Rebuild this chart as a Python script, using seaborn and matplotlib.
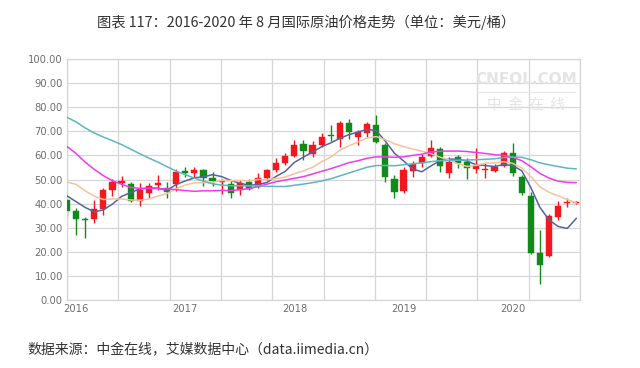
import numpy as np
import pandas as pd
import matplotlib
matplotlib.use("Agg")
import matplotlib.pyplot as plt
import seaborn as sns

# ---------------- data (monthly WTI candles, 2015-12 .. 2020-08) ----------------
months = [str(p) for p in pd.period_range("2015-12", "2020-08", freq="M")]
open_ = [41.6, 37.0, 33.8, 33.6, 37.8, 45.5, 48.6, 48.3, 41.2, 44.5, 47.8, 46.5,
         48.1, 53.7, 52.7, 53.8, 50.7, 49.0, 48.2, 45.7, 49.0, 47.0, 50.8, 54.0,
         57.0, 59.6, 64.6, 60.5, 64.4, 68.3, 66.9, 73.5, 67.7, 69.4, 72.7, 64.4,
         50.3, 45.3, 53.6, 57.0, 59.8, 62.7, 52.7, 59.4, 57.3, 54.4, 54.0, 53.6,
         55.7, 61.0, 51.1, 43.2, 19.5, 18.3, 34.5, 40.3, 40.2]
high = [42.0, 38.0, 34.6, 41.3, 46.3, 50.2, 51.4, 49.0, 48.6, 48.4, 51.9, 49.0,
        54.4, 55.0, 55.0, 54.5, 53.0, 50.3, 49.2, 49.6, 50.3, 52.8, 54.5, 58.8,
        60.8, 66.5, 66.4, 65.8, 69.4, 72.6, 74.2, 75.3, 70.6, 73.8, 76.9, 65.2,
        51.9, 55.0, 57.8, 60.7, 66.2, 63.6, 59.5, 60.2, 59.0, 63.2, 56.9, 56.5,
        62.0, 65.2, 51.8, 45.0, 29.0, 35.5, 41.1, 42.4, 40.9]
low = [34.8, 27.0, 25.8, 32.0, 35.3, 43.0, 46.8, 40.5, 39.0, 42.5, 45.6, 42.3,
       45.3, 51.0, 51.2, 47.1, 47.5, 43.8, 42.2, 43.6, 45.5, 46.4, 49.8, 53.0,
       56.0, 59.2, 58.2, 59.5, 63.6, 65.8, 63.6, 67.0, 64.4, 67.6, 65.2, 49.0,
       42.4, 44.4, 51.2, 55.2, 59.2, 53.0, 50.6, 54.8, 50.3, 52.7, 50.7, 53.0,
       55.3, 51.5, 43.6, 19.0, 6.6, 17.8, 33.2, 38.6, 40.0]
close = [37.0, 33.5, 33.2, 37.8, 45.5, 49.1, 49.2, 41.2, 45.5, 47.4, 48.5, 44.8,
         53.3, 52.8, 54.0, 50.6, 49.3, 49.4, 44.6, 48.7, 46.0, 50.8, 53.8, 57.0,
         59.6, 64.2, 62.0, 64.4, 67.7, 67.9, 73.5, 69.8, 69.8, 73.0, 65.6, 51.1,
         44.9, 54.0, 56.5, 59.4, 63.2, 55.7, 57.3, 57.0, 54.8, 55.7, 54.4, 55.3,
         61.0, 52.7, 44.4, 19.5, 14.5, 35.0, 39.0, 40.7, 40.6]

# moving-average lines
ma5 = [43.2, 40.8, 38.4, 36.6, 37.4, 39.8, 43.0, 44.6, 46.1, 46.5, 46.4, 45.5,
       47.9, 49.4, 50.7, 51.1, 52.0, 51.2, 49.6, 48.5, 47.6, 47.9, 48.8, 51.3,
       53.4, 57.1, 59.3, 61.4, 63.6, 65.2, 67.1, 68.6, 69.7, 70.8, 70.3, 65.9,
       60.9, 57.7, 54.4, 53.2, 55.6, 57.8, 58.4, 58.5, 57.6, 56.1, 55.8, 55.4,
       56.2, 55.8, 53.6, 46.6, 38.4, 33.2, 30.5, 29.7, 33.9]
ma10 = [48.9, 48.0, 45.3, 43.1, 41.7, 41.9, 41.9, 41.5, 41.4, 41.9, 43.1, 44.2,
        46.2, 47.7, 48.6, 48.7, 48.8, 49.6, 49.5, 49.6, 49.4, 50.0, 50.0, 50.4,
        51.0, 52.4, 53.6, 55.1, 57.4, 59.3, 62.1, 64.0, 65.6, 67.2, 67.8, 66.5,
        64.8, 63.7, 62.6, 61.8, 60.7, 59.3, 58.1, 56.5, 55.4, 55.9, 56.8, 56.9,
        57.4, 56.7, 54.8, 51.2, 46.9, 44.7, 43.2, 41.7, 40.3]
ma20 = [63.7, 60.8, 57.2, 54.2, 51.6, 49.5, 48.0, 46.7, 46.3, 46.3, 46.2, 46.1,
        45.8, 45.4, 45.1, 45.3, 45.3, 45.5, 45.4, 45.8, 46.2, 47.1, 48.1, 49.1,
        49.8, 50.5, 51.2, 52.3, 53.4, 54.5, 55.7, 57.0, 57.8, 58.8, 59.4, 59.4,
        59.2, 59.4, 60.0, 60.5, 61.4, 61.7, 61.8, 61.8, 61.6, 61.2, 60.8, 60.3,
        60.0, 59.2, 57.8, 55.3, 52.5, 50.6, 49.3, 48.8, 48.7]
ma30 = [75.8, 73.9, 71.4, 69.3, 67.6, 66.1, 64.5, 62.6, 60.7, 58.9, 57.2, 55.3,
        53.5, 52.0, 50.6, 49.3, 48.2, 47.7, 47.4, 47.4, 47.3, 47.4, 47.2, 47.1,
        47.1, 47.6, 48.1, 48.7, 49.4, 50.3, 51.5, 52.7, 53.9, 55.1, 55.8, 55.8,
        55.7, 56.1, 56.5, 56.9, 57.4, 57.8, 57.9, 58.0, 58.1, 58.2, 58.4, 58.6,
        59.1, 59.3, 59.2, 58.2, 56.9, 56.1, 55.4, 54.7, 54.4]

year_labels = ["2016", "2017", "2018", "2019", "2020"]
year_months = ["2016-01", "2017-01", "2018-01", "2019-01", "2020-01"]
y_ticks = [0, 10, 20, 30, 40, 50, 60, 70, 80, 90, 100]

title = "图表 117：2016-2020 年 8 月国际原油价格走势（单位：美元/桶）"
source = "数据来源：中金在线，艾媒数据中心（data.iimedia.cn）"

# ---------------- style ----------------
sns.set_style("white")
plt.rcParams["font.family"] = ["Noto Sans CJK SC", "DejaVu Sans"]

RED = "#F5171E"
GREEN = "#128A1A"
GRID = "#D6D6D6"
TICK = "#6E6E6E"

df = pd.DataFrame({"month": months, "open": open_, "high": high, "low": low,
                   "close": close, "MA5": ma5, "MA10": ma10, "MA20": ma20, "MA30": ma30})
df["x"] = np.arange(len(df))
df["up"] = df["close"] >= df["open"]
df["bottom"] = df[["open", "close"]].min(axis=1)
df["height"] = (df["close"] - df["open"]).abs().clip(lower=0.5)
df["color"] = np.where(df["up"], RED, GREEN)

fig = plt.figure(figsize=(6.4, 3.68), dpi=100)
ax = fig.add_axes([67 / 640, 68 / 368, 513 / 640, 241 / 368])

xmin, xmax = 0.0, 56.4
ax.set_xlim(xmin, xmax)
ax.set_ylim(0, 100)

# grid
for yv in y_ticks:
    ax.axhline(yv, color=GRID, lw=0.9, zorder=0)
for xv in np.linspace(xmin, xmax, 11):
    ax.axvline(xv, color=GRID, lw=0.9, zorder=0)

# watermark
ax.text(0.895, 0.915, "CNFOL.COM", transform=ax.transAxes, ha="center", va="center",
        fontsize=11, fontweight="bold", color="#E4E4E4", family=["DejaVu Sans"], zorder=0.5)
ax.plot([0.80, 0.99], [0.865, 0.865], transform=ax.transAxes, color="#E8E8E8", lw=0.8, zorder=0.5)
ax.text(0.895, 0.81, "中  金  在  线", transform=ax.transAxes, ha="center", va="center",
        fontsize=10.5, color="#E4E4E4", zorder=0.5)

# candles: wicks + bodies
ax.vlines(df["x"], df["low"], df["high"], colors=df["color"], lw=1.0, zorder=2)
ax.bar(df["x"], df["height"], bottom=df["bottom"], width=0.68, color=df["color"],
       edgecolor=df["color"], linewidth=0.3, zorder=3)

# moving averages
ma_long = df.melt(id_vars="x", value_vars=["MA5", "MA10", "MA20", "MA30"],
                  var_name="ma", value_name="val")
palette = {"MA5": "#56639F", "MA10": "#F6C29C", "MA20": "#EE3BEE", "MA30": "#5DB6C2"}
sns.lineplot(data=ma_long, x="x", y="val", hue="ma", palette=palette, lw=1.1,
             ax=ax, legend=False, zorder=4, estimator=None)

# axes styling
ax.set_xlabel("")
ax.set_ylabel("")
ax.set_yticks(y_ticks)
ax.set_yticklabels([f"{v:.2f}" for v in y_ticks], fontsize=7.2, color=TICK,
                   family=["DejaVu Sans"])
pos = [months.index(m) for m in year_months]
ax.set_xticks(pos)
ax.set_xticklabels(year_labels, fontsize=7.2, color=TICK, family=["DejaVu Sans"])
ax.tick_params(axis="both", length=0, pad=3)
for s in ax.spines.values():
    s.set_color(GRID)
    s.set_linewidth(0.9)

fig.text(306 / 640, 1 - 22 / 368, title, ha="center", va="center", fontsize=10.3, color="#333333")
fig.text(27 / 640, 1 - 350 / 368, source, ha="left", va="center", fontsize=10, color="#333333")

fig.savefig("out.png", dpi=100)
